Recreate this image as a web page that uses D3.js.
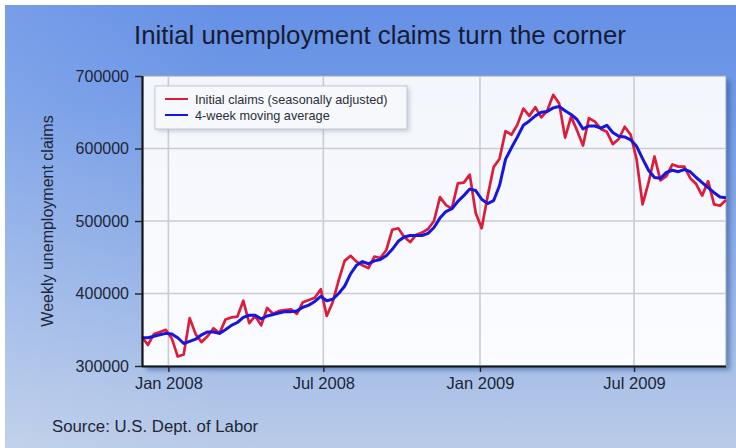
<!DOCTYPE html>
<html>
<head>
<meta charset="utf-8">
<script src="https://cdn.jsdelivr.net/npm/d3@7"></script>
<style>
  html, body { margin: 0; padding: 0; background: #ffffff; }
  svg { display: block; font-family: "Liberation Sans", Arial, sans-serif; }
</style>
</head>
<body>
<svg id="chart" width="736" height="448"></svg>
<script>
// Weekly series, week ending Saturday, first week ending 1 Dec 2007
const firstWeek = "2007-12-01";

// Initial claims, seasonally adjusted
const initialClaims = [
  340000, 329000, 344000, 347000, 350000, 338000, 313000, 316000, 366000, 344000,
  333000, 341000, 352000, 345000, 364000, 367000, 368000, 390000, 359000, 369000,
  356000, 380000, 372000, 376000, 377000, 378000, 372000, 388000, 391000, 394000,
  406000, 369000, 388000, 418000, 445000, 452000, 444000, 439000, 435000, 451000,
  449000, 460000, 488000, 490000, 478000, 471000, 481000, 484000, 489000, 500000,
  533000, 522000, 517000, 552000, 553000, 564000, 511000, 490000, 534000, 574000,
  586000, 624000, 619000, 633000, 655000, 645000, 657000, 643000, 652000, 674000,
  662000, 615000, 644000, 625000, 604000, 642000, 637000, 627000, 623000, 606000,
  613000, 630000, 619000, 585000, 523000, 553000, 589000, 556000, 562000, 578000,
  575000, 575000, 559000, 551000, 535000, 555000, 523000, 521000, 529000
];

// 4-week moving average
const movingAverage = [
  339000, 339000, 341000, 343000, 345000, 344000, 339000, 331000, 334000, 337000,
  343000, 347000, 347000, 345000, 350000, 356000, 360000, 367000, 370000, 370000,
  365000, 369000, 371000, 373000, 375000, 375000, 376000, 381000, 384000, 389000,
  396000, 390000, 392000, 400000, 410000, 427000, 439000, 444000, 441000, 445000,
  447000, 452000, 461000, 472000, 478000, 480000, 480000, 480000, 483000, 491000,
  504000, 513000, 517000, 527000, 535000, 544000, 542000, 530000, 524000, 528000,
  549000, 585000, 601000, 616000, 632000, 638000, 645000, 650000, 651000, 656000,
  658000, 652000, 647000, 640000, 627000, 631000, 631000, 628000, 632000, 622000,
  617000, 616000, 612000, 603000, 586000, 570000, 560000, 559000, 567000, 570000,
  568000, 571000, 568000, 560000, 553000, 546000, 539000, 533000, 532000
];

const seriesNames = ["Initial claims (seasonally adjusted)", "4-week moving average"];
const seriesColors = ["#dc1d3a", "#1515dc"];
const yTicks = [300000, 400000, 500000, 600000, 700000];
const xTicks = ["2008-01-01", "2008-07-01", "2009-01-01", "2009-07-01"];
const titleText = "Initial unemployment claims turn the corner";
const yLabelText = "Weekly unemployment claims";
const sourceText = "Source: U.S. Dept. of Labor";

const parse = d3.timeParse("%Y-%m-%d");
const start = parse(firstWeek);
const weeks = initialClaims.map((_, i) => d3.timeWeek.offset(start, i));

const svg = d3.select("#chart");
const W = 736, H = 448;
const plot = { left: 142, top: 76, right: 726, bottom: 366 };

const defs = svg.append("defs");
const bg = defs.append("linearGradient").attr("id", "bg")
  .attr("x1", 0).attr("y1", 0).attr("x2", 0).attr("y2", 1);
bg.append("stop").attr("offset", "0%").attr("stop-color", "#6590e6");
bg.append("stop").attr("offset", "22%").attr("stop-color", "#7099e6");
bg.append("stop").attr("offset", "100%").attr("stop-color", "#b9cbe8");

const side = defs.append("linearGradient").attr("id", "side")
  .attr("x1", 0).attr("y1", 0).attr("x2", 1).attr("y2", 0);
side.append("stop").attr("offset", "0%").attr("stop-color", "#ffffff").attr("stop-opacity", 0.12);
side.append("stop").attr("offset", "30%").attr("stop-color", "#ffffff").attr("stop-opacity", 0);
side.append("stop").attr("offset", "100%").attr("stop-color", "#ffffff").attr("stop-opacity", 0);

const plotBg = defs.append("linearGradient").attr("id", "plotbg")
  .attr("x1", 0).attr("y1", 0).attr("x2", 0).attr("y2", 1);
plotBg.append("stop").attr("offset", "0%").attr("stop-color", "#f3f6fc");
plotBg.append("stop").attr("offset", "100%").attr("stop-color", "#fbfcff");

const blur = defs.append("filter").attr("id", "shadow")
  .attr("x", "-10%").attr("y", "-10%").attr("width", "130%").attr("height", "130%");
blur.append("feGaussianBlur").attr("stdDeviation", 2.5);

const lineBlur = defs.append("filter").attr("id", "soft");
lineBlur.append("feGaussianBlur").attr("stdDeviation", 0.35);

// page background
svg.append("rect").attr("x", 5).attr("y", 5).attr("width", W - 5).attr("height", H - 5)
  .attr("fill", "url(#bg)");
svg.append("rect").attr("x", 5).attr("y", 5).attr("width", W - 5).attr("height", H - 5)
  .attr("fill", "url(#side)");

// plot shadow and panel
svg.append("rect")
  .attr("x", plot.left + 4).attr("y", plot.top + 4)
  .attr("width", plot.right - plot.left).attr("height", plot.bottom - plot.top)
  .attr("fill", "#2d4f94").attr("opacity", 0.55).attr("filter", "url(#shadow)");
svg.append("rect")
  .attr("x", plot.left).attr("y", plot.top)
  .attr("width", plot.right - plot.left).attr("height", plot.bottom - plot.top)
  .attr("fill", "url(#plotbg)").attr("stroke", "#9aa6b8").attr("stroke-width", 1);

const x = d3.scaleTime()
  .domain([weeks[0], weeks[weeks.length - 1]])
  .range([plot.left, plot.right]);
const y = d3.scaleLinear().domain([300000, 700000]).range([plot.bottom, plot.top]);

// grid
const grid = svg.append("g").attr("stroke", "#c9ccd2").attr("stroke-width", 1.6);
grid.selectAll("line.h").data(yTicks.slice(1, -1)).join("line")
  .attr("x1", plot.left).attr("x2", plot.right)
  .attr("y1", d => y(d)).attr("y2", d => y(d));
grid.selectAll("line.v").data(xTicks.map(parse)).join("line")
  .attr("y1", plot.top).attr("y2", plot.bottom)
  .attr("x1", d => x(d)).attr("x2", d => x(d));

// series
const line = d3.line().x((d, i) => x(weeks[i])).y(d => y(d));
const lines = svg.append("g").attr("filter", "url(#soft)");
lines.append("path").datum(initialClaims)
  .attr("d", line).attr("fill", "none")
  .attr("stroke", seriesColors[0]).attr("stroke-width", 2.7)
  .attr("stroke-linejoin", "round");
lines.append("path").datum(movingAverage)
  .attr("d", line).attr("fill", "none")
  .attr("stroke", seriesColors[1]).attr("stroke-width", 3)
  .attr("stroke-linejoin", "round");

// axes
const textColor = "#1c2637";
const yAxis = svg.append("g").attr("transform", `translate(${plot.left},0)`)
  .call(d3.axisLeft(y).tickValues(yTicks).tickFormat(d3.format("d")).tickSize(7).tickPadding(6));
const xAxis = svg.append("g").attr("transform", `translate(0,${plot.bottom})`)
  .call(d3.axisBottom(x).tickValues(xTicks.map(parse)).tickFormat(d3.timeFormat("%b %Y")).tickSize(6).tickPadding(5));
[yAxis, xAxis].forEach(a => {
  a.select(".domain").attr("stroke", "#111418").attr("stroke-width", 2.2);
  a.selectAll(".tick line").attr("stroke", "#222").attr("stroke-width", 1.4);
  a.selectAll("text").attr("fill", textColor)
    .attr("font-family", "Liberation Sans, Arial, sans-serif");
});
yAxis.selectAll("text").attr("font-size", 16);
xAxis.selectAll("text").attr("font-size", 16.5);
yAxis.select(".domain").attr("d", `M0.5,${plot.top}V${plot.bottom}`);
xAxis.select(".domain").attr("d", `M${plot.left},0.5H${plot.right}`);

// title
svg.append("text").attr("x", 380).attr("y", 44)
  .attr("text-anchor", "middle").attr("font-size", 25.8)
  .attr("fill", "#151c33").text(titleText);

// y axis label
svg.append("text")
  .attr("transform", "translate(53,221) rotate(-90)")
  .attr("text-anchor", "middle").attr("font-size", 16)
  .attr("fill", textColor).text(yLabelText);

// source
svg.append("text").attr("x", 52).attr("y", 432)
  .attr("font-size", 16.8).attr("fill", textColor).text(sourceText);

// legend
const lg = svg.append("g").attr("transform", "translate(155,86)");
lg.append("rect").attr("x", 2).attr("y", 2).attr("width", 252).attr("height", 43)
  .attr("fill", "#8894aa").attr("opacity", 0.5).attr("filter", "url(#shadow)");
lg.append("rect").attr("width", 252).attr("height", 43)
  .attr("fill", "#f7f8fc").attr("stroke", "#c3c7d0").attr("stroke-width", 1);
seriesNames.forEach((name, i) => {
  const yy = 13 + i * 16;
  lg.append("line").attr("x1", 10).attr("x2", 33).attr("y1", yy).attr("y2", yy)
    .attr("stroke", seriesColors[i]).attr("stroke-width", 2);
  lg.append("text").attr("x", 40).attr("y", yy + 4.5)
    .attr("font-size", 12.7).attr("fill", "#2a2f3a").text(name);
});
</script>
</body>
</html>
